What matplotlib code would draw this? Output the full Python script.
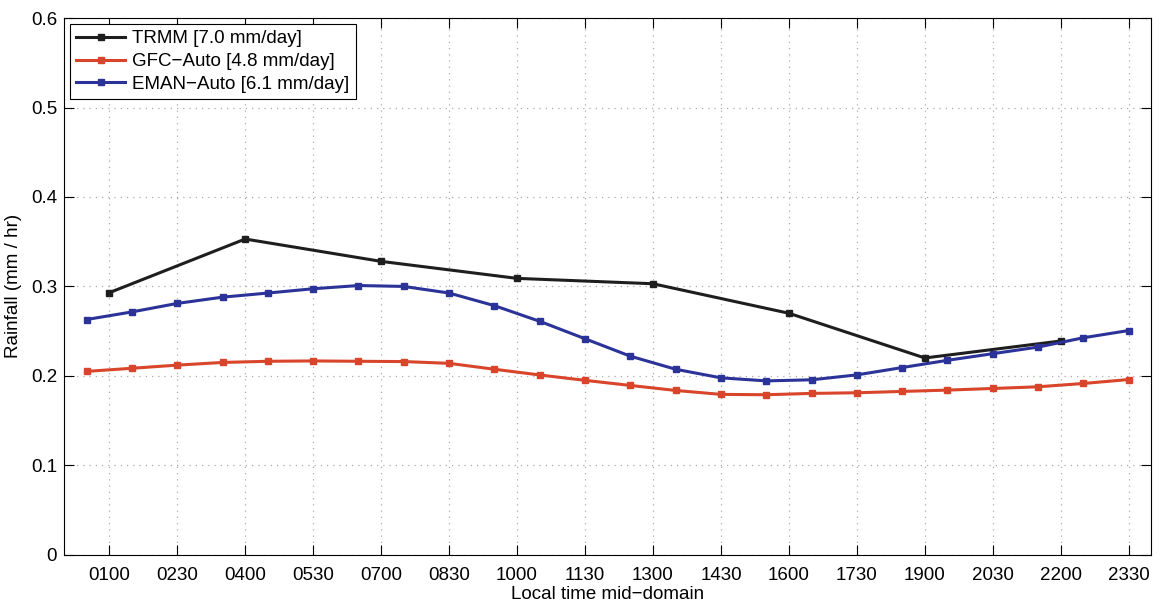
import numpy as np
import matplotlib
matplotlib.use("Agg")
import matplotlib.pyplot as plt

plt.rcParams['font.family'] = ['Liberation Sans', 'DejaVu Sans']

# hours of day (local time mid-domain)
trmm_hours = [1, 4, 7, 10, 13, 16, 19, 22]
trmm_rain = [0.293, 0.353, 0.328, 0.309, 0.303, 0.270, 0.220, 0.239]

model_hours = [h + 0.5 for h in range(24)]
gfc_rain = [0.205, 0.2085, 0.212, 0.215, 0.2163, 0.2167, 0.2163, 0.216,
            0.214, 0.2074, 0.201, 0.195, 0.1893, 0.1837, 0.1793, 0.1789,
            0.1804, 0.1811, 0.1826, 0.1841, 0.1859, 0.1878, 0.1915, 0.1959]
eman_rain = [0.263, 0.2715, 0.281, 0.288, 0.2926, 0.2974, 0.301, 0.300,
             0.2926, 0.2785, 0.261, 0.2415, 0.222, 0.2074, 0.1978, 0.1944,
             0.1956, 0.2011, 0.2093, 0.2174, 0.2248, 0.2322, 0.2426, 0.2507]

tick_pos = np.arange(1, 24, 1.5)
tick_labels = ['0100', '0230', '0400', '0530', '0700', '0830', '1000', '1130',
               '1300', '1430', '1600', '1730', '1900', '2030', '2200', '2330']

fig = plt.figure(figsize=(11.63, 6.03), dpi=100)
ax = fig.add_axes([0.055, 0.080, 0.935, 0.890])

ax.plot(trmm_hours, trmm_rain, '-s', color='#1e1e1e', lw=2.2, ms=4,
        label='TRMM [7.0 mm/day]')
ax.plot(model_hours, gfc_rain, '-s', color='#d8452b', lw=2.2, ms=4,
        label='GFC\u2212Auto [4.8 mm/day]')
ax.plot(model_hours, eman_rain, '-s', color='#2b3399', lw=2.2, ms=4,
        label='EMAN\u2212Auto [6.1 mm/day]')

ax.set_xlim(0, 24)
ax.set_ylim(0, 0.6)
ax.set_xticks(tick_pos)
ax.set_xticklabels(tick_labels)
ax.set_yticks(np.arange(0, 0.61, 0.1))
ax.set_yticklabels(['0', '0.1', '0.2', '0.3', '0.4', '0.5', '0.6'])
ax.tick_params(direction='in', length=7, top=True, right=True, labelsize=13.5)
ax.tick_params(axis='x', pad=9)
ax.tick_params(axis='y', pad=5)
ax.grid(True, linestyle=(0, (1, 4)), color='#aaaaaa', lw=0.9)

ax.set_xlabel('Local time mid\u2212domain', fontsize=13.5, labelpad=1)
ax.set_ylabel('Rainfall (mm / hr)', fontsize=13.5, labelpad=6)

leg = ax.legend(loc='upper left', fontsize=13.5, fancybox=False, framealpha=1,
                edgecolor='black', borderaxespad=0.3, handlelength=2.6,
                labelspacing=0.3, borderpad=0.35, handletextpad=0.4)
leg.get_frame().set_linewidth(0.8)

fig.savefig('out.png', dpi=100)
